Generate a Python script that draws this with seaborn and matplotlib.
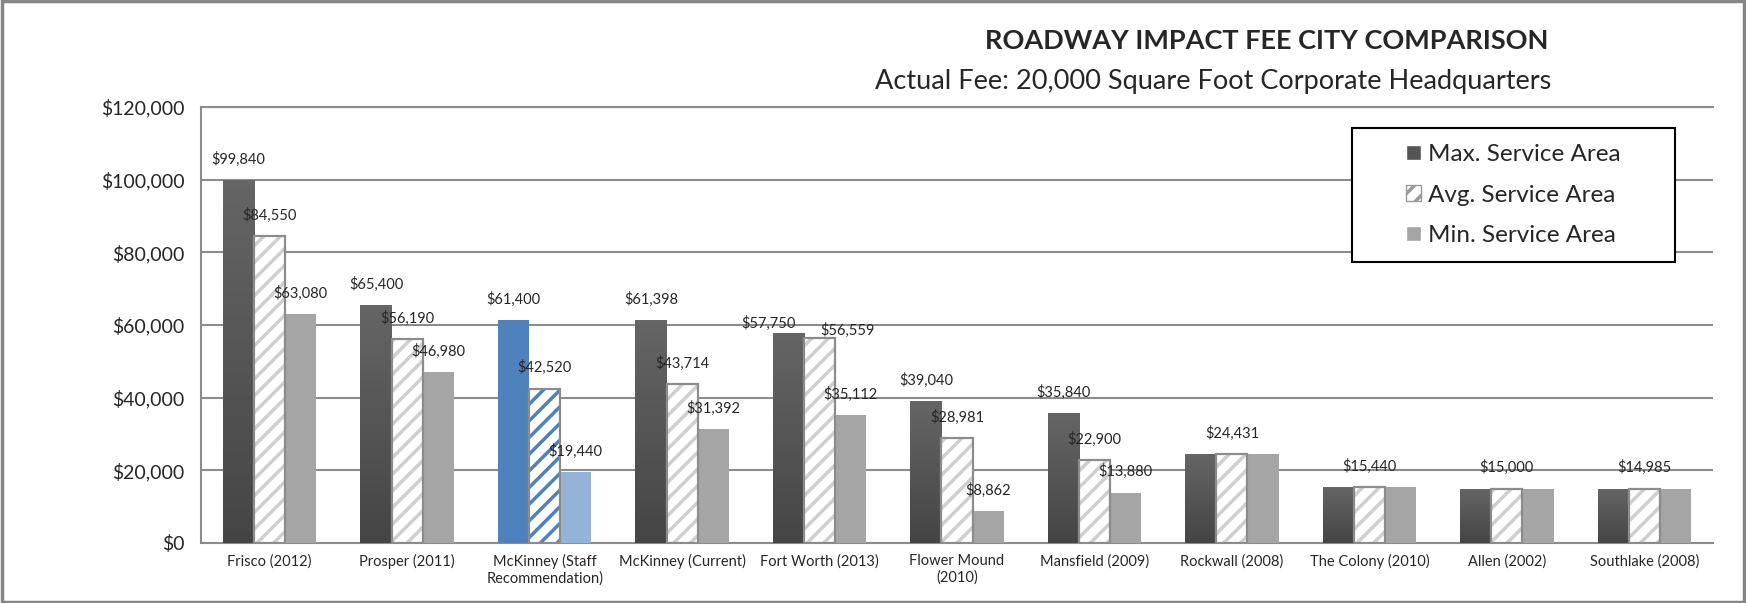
import numpy as np
import pandas as pd
import matplotlib
matplotlib.use('Agg')
import matplotlib.pyplot as plt
import seaborn as sns
from matplotlib.patches import Patch, Rectangle
from matplotlib.colors import LinearSegmentedColormap
from matplotlib.ticker import FuncFormatter

# data
cities = ['Frisco (2012)', 'Prosper (2011)', 'McKinney (Staff\nRecommendation)',
          'McKinney (Current)', 'Fort Worth (2013)', 'Flower Mound\n(2010)',
          'Mansfield (2009)', 'Rockwall (2008)', 'The Colony (2010)',
          'Allen (2002)', 'Southlake (2008)']
max_fee = [99840, 65400, 61400, 61398, 57750, 39040, 35840, 24431, 15440, 15000, 14985]
avg_fee = [84550, 56190, 42520, 43714, 56559, 28981, 22900, 24431, 15440, 15000, 14985]
min_fee = [63080, 46980, 19440, 31392, 35112, 8862, 13880, 24431, 15440, 15000, 14985]
series = ['Max. Service Area', 'Avg. Service Area', 'Min. Service Area']
# cities where all three bars carry a label (others only the middle one)
label_all = [True, True, True, True, True, True, True, False, False, False, False]
highlight = 'McKinney (Staff\nRecommendation)'

df = pd.DataFrame({
    'city': cities * 3,
    'series': np.repeat(series, len(cities)),
    'fee': max_fee + avg_fee + min_fee,
})

sns.set_style('white')
plt.rcParams['font.family'] = ['Lato', 'DejaVu Sans']
plt.rcParams['hatch.linewidth'] = 2.5

W, H = 1746, 603
fig = plt.figure(figsize=(W / 100, H / 100), dpi=100)
ax = fig.add_axes([201 / W, 1 - 543 / H, (1713 - 201) / W, (543 - 107) / H])

sns.barplot(data=df, x='city', y='fee', hue='series',
            palette=['#555555', '#ffffff', '#a5a5a5'], width=0.68,
            saturation=1, errorbar=None, legend=False, ax=ax, zorder=3)

hi = cities.index(highlight)
grad = LinearSegmentedColormap.from_list('g', ['#454545', '#656565'])
gvals = np.linspace(0, 1, 64).reshape(-1, 1)

# max bars: dark gradient
for i, p in enumerate(ax.containers[0]):
    x, w, h = p.get_x(), p.get_width(), p.get_height()
    p.set_linewidth(0)
    if i == hi:
        p.set_facecolor('#4f81bd')
        continue
    im = ax.imshow(gvals, cmap=grad, origin='lower', aspect='auto',
                   extent=[x, x + w, 0, h], zorder=3.2)
    im.set_clip_path(p)

# avg bars: white with diagonal stripes and grey outline
for i, p in enumerate(ax.containers[1]):
    x, w, h = p.get_x(), p.get_width(), p.get_height()
    p.set_facecolor('white')
    p.set_hatch('//')
    p.set_edgecolor('#4f81bd' if i == hi else '#cfcfcf')
    p.set_linewidth(0)
    ax.add_patch(Rectangle((x, 0), w, h, fill=False, edgecolor='#8c8c8c',
                           lw=1.6, zorder=4))

# min bars
for i, p in enumerate(ax.containers[2]):
    p.set_linewidth(0)
    p.set_facecolor('#95b3d7' if i == hi else '#a5a5a5')

# value labels (Fort Worth pair nudged apart like the original)
nudge = {(4, 0): (-14, 7), (4, 1): (20, 5)}
for j, cont in enumerate(ax.containers):
    for i, p in enumerate(cont):
        if not (label_all[i] or j == 1):
            continue
        v = p.get_height()
        ax.annotate(f'${v:,.0f}', (p.get_x() + p.get_width() / 2, v),
                    xytext=nudge.get((i, j), (0, 15)), textcoords='offset points',
                    ha='center', va='center', fontsize=10.5, zorder=6)

ax.set_xlim(-0.5, len(cities) - 0.5)
ax.set_ylim(0, 120000)
ax.set_yticks(range(0, 120001, 20000))
ax.yaxis.set_major_formatter(FuncFormatter(lambda v, p: f'${v:,.0f}'))
ax.yaxis.grid(True, color='#8c8c8c', lw=1.5)
ax.set_axisbelow(True)
ax.set_xlabel('')
ax.set_ylabel('')
ax.tick_params(axis='y', length=0, labelsize=14, pad=12)
ax.tick_params(axis='x', length=0, labelsize=10.5, pad=8)
for s in ['left', 'bottom', 'top']:
    ax.spines[s].set_color('#8c8c8c')
    ax.spines[s].set_linewidth(1.5)
ax.spines['right'].set_visible(False)

fig.text(1548 / W, 1 - 41 / H, 'ROADWAY IMPACT FEE CITY COMPARISON',
         ha='right', va='center', fontsize=19.5, fontweight='bold')
fig.text(1551 / W, 1 - 82 / H, 'Actual Fee: 20,000 Square Foot Corporate Headquarters',
         ha='right', va='center', fontsize=19.5)

# legend in its own box
fig.add_artist(Rectangle((1352 / W, 1 - 262 / H), 323 / W, 134 / H,
                         transform=fig.transFigure, facecolor='white',
                         edgecolor='black', lw=1.5, zorder=4))
handles = [Patch(facecolor='#555555'),
           Patch(facecolor='white', edgecolor='#9a9a9a', hatch='//'),
           Patch(facecolor='#a5a5a5')]
fig.legend(handles, series, loc='center',
           bbox_to_anchor=((1352 + 1675) / 2 / W, 1 - 195 / H),
           frameon=False, fontsize=17.5, handlelength=0.6, handleheight=0.6,
           handletextpad=0.3, labelspacing=0.8)

# outer chart border
fig.add_artist(Rectangle((0.001, 0.002), 0.998, 0.996, transform=fig.transFigure,
                         fill=False, edgecolor='#868686', lw=2.5))

fig.savefig('out.png', dpi=100)
